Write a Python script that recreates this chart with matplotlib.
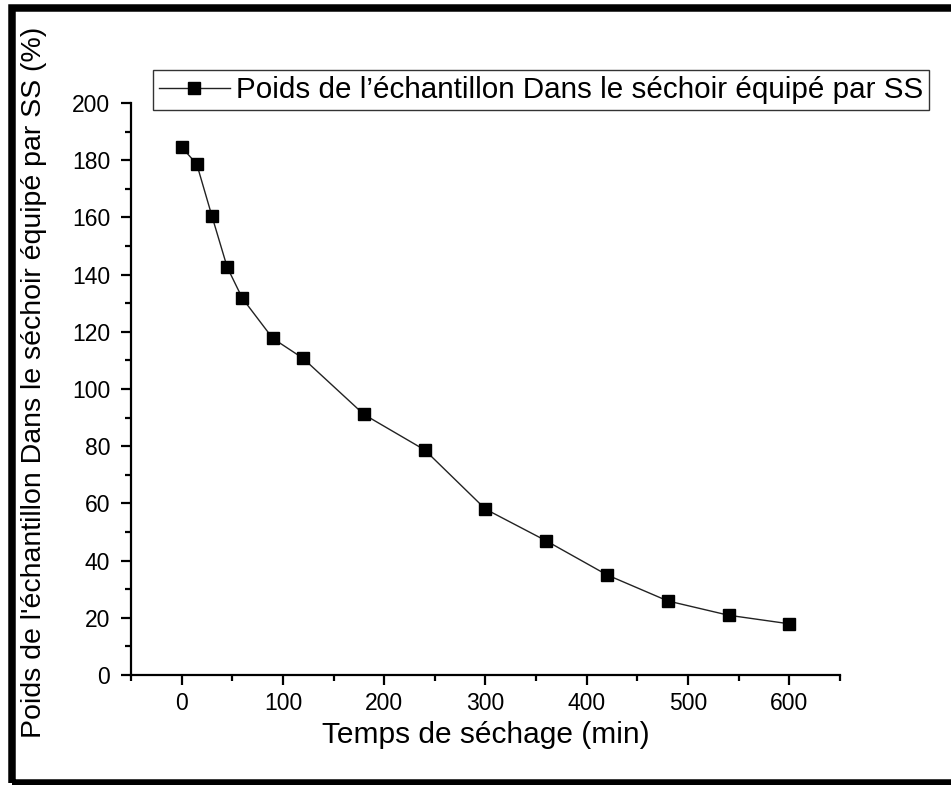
#!/usr/bin/env python3
"""
plot.py

Courbe de séchage : poids de l'échantillon en fonction du temps.
"""

import matplotlib
matplotlib.use("Agg")
import matplotlib.pyplot as plt
from matplotlib.patches import Rectangle
from matplotlib.ticker import MultipleLocator

# -------------------------------------------------------------------
# Données
# -------------------------------------------------------------------
temps = [0, 15, 30, 45, 60, 90, 120, 180, 240, 300, 360, 420, 480, 540, 600]
poids = [184.6, 178.6, 160.4, 142.6, 131.7, 117.7, 110.7, 91.1,
         78.7, 58.0, 46.9, 35.0, 25.9, 20.9, 17.9]

legend_label = "Poids de l’échantillon Dans le séchoir équipé par SS"
x_label = "Temps de séchage (min)"
y_label = "Poids de l'échantillon Dans le séchoir équipé par SS (%)"

# -------------------------------------------------------------------
# Style
# -------------------------------------------------------------------
plt.rcParams["font.family"] = ["Liberation Sans", "DejaVu Sans"]
FIG_SIZE = (9.51, 7.85)
DPI = 100

fig = plt.figure(figsize=FIG_SIZE, dpi=DPI)
ax = fig.add_axes([0.1377, 0.1401, 0.7456, 0.7287])

ax.plot(temps, poids, color="#222222", linewidth=1.0, marker="s",
        markersize=9, markerfacecolor="black", markeredgecolor="black",
        label=legend_label)

ax.set_xlim(-50, 650)
ax.set_ylim(0, 200)
ax.xaxis.set_major_locator(MultipleLocator(100))
ax.xaxis.set_minor_locator(MultipleLocator(50))
ax.yaxis.set_major_locator(MultipleLocator(20))
ax.yaxis.set_minor_locator(MultipleLocator(10))

for side in ("top", "right"):
    ax.spines[side].set_visible(False)
for side in ("left", "bottom"):
    ax.spines[side].set_linewidth(1.6)

ax.tick_params(axis="both", which="major", direction="out", length=7,
               width=1.6, labelsize=16.5)
ax.tick_params(axis="x", which="major", pad=5)
ax.tick_params(axis="y", which="major", pad=8)
ax.tick_params(axis="both", which="minor", direction="out", length=4,
               width=1.6)

ax.set_xlabel(x_label, fontsize=21.5)
ax.set_ylabel(y_label, fontsize=20.5)
ax.xaxis.set_label_coords(0.5, -0.081)
ax.yaxis.set_label_coords(-0.1185, 0.512)

leg = ax.legend(loc="upper left", bbox_to_anchor=(153 / 951, 1 - 70 / 785),
                bbox_transform=fig.transFigure, fontsize=21.3, frameon=True,
                fancybox=False, borderpad=0.2, handlelength=2.4,
                handletextpad=0.2, borderaxespad=0)
leg.get_frame().set_edgecolor("black")
leg.get_frame().set_linewidth(1.0)

# cadre noir autour de la figure
fig.patches.append(Rectangle((11.5 / 951, 2 / 785), 1.0, 1 - 10 / 785,
                             transform=fig.transFigure, fill=False,
                             edgecolor="black", linewidth=5.4,
                             clip_on=False))

fig.savefig("out.png", dpi=DPI)
plt.close(fig)
